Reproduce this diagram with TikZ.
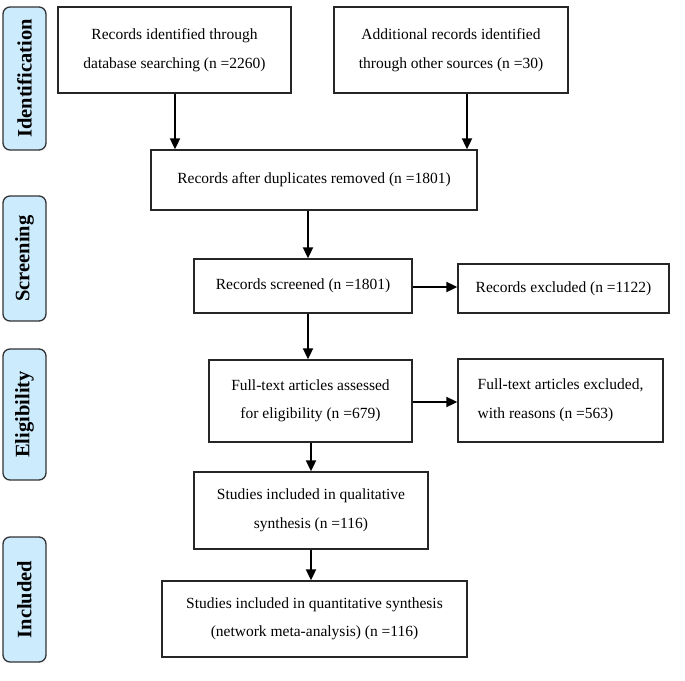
\documentclass[tikz,border=0pt]{standalone}
\usepackage{fontspec}
\setmainfont{Liberation Serif}
\usetikzlibrary{arrows.meta}
\definecolor{phasefill}{HTML}{CCEBFD}
\begin{document}
\begin{tikzpicture}[x=1pt,y=-1pt,
  box/.style={draw=black!85,line width=1.3pt,rectangle,inner sep=0pt,align=center,
    font=\fontsize{15.5}{28.5}\selectfont},
  phase/.style={draw=black!80,line width=1.3pt,fill=phasefill,rounded corners=7pt,
    inner sep=0pt,font=\fontsize{20.5}{24}\selectfont\bfseries,rotate=90},
  arr/.style={line width=1.8pt,-{Triangle[length=11pt,width=10pt]}}]
\useasboundingbox (0,0) rectangle (685,680);
% phase labels
\node[phase,minimum width=143pt,minimum height=43pt] (lab1) at (24.5,78.5) {Identification};
\node[phase,minimum width=125pt,minimum height=43pt] (lab2) at (24.5,258.5) {Screening};
\node[phase,minimum width=131pt,minimum height=43pt] (lab3) at (24.5,414.5) {Eligibility};
\node[phase,minimum width=125pt,minimum height=43pt] (lab4) at (24.5,599.5) {Included};
% boxes
\node[box,minimum width=233pt,minimum height=86pt] (b1) at (174.5,50) {Records identified through\\database searching (n =2260)};
\node[box,minimum width=234pt,minimum height=86pt] (b2) at (451,50) {Additional records identified\\through other sources (n =30)};
\node[box,minimum width=326pt,minimum height=60pt] (b3) at (314,180) {Records after duplicates removed (n =1801)};
\node[box,minimum width=218pt,minimum height=54pt] (s1) at (303,286) {Records screened (n =1801)};
\node[box,minimum width=211pt,minimum height=49pt] (s2) at (563.5,288.5) {Records excluded (n =1122)};
\node[box,minimum width=203pt,minimum height=82pt] (e1) at (310.5,401) {Full-text articles assessed\\for eligibility (n =679)};
\node[box,minimum width=205pt,minimum height=83pt,align=left] (e2) at (560.5,400.5) {Full-text articles excluded,\\with reasons (n =563)};
\node[box,minimum width=234pt,minimum height=77pt] (q1) at (311,510.5) {Studies included in qualitative\\synthesis (n =116)};
\node[box,minimum width=305pt,minimum height=76pt] (q2) at (314.5,619) {Studies included in quantitative synthesis\\(network meta-analysis) (n =116)};
% arrow columns
\coordinate (xa) at (175,0);
\coordinate (xb) at (467,0);
\coordinate (xc) at (308,0);
\coordinate (xd) at (311,0);
\coordinate (ya) at (0,287);
\coordinate (yb) at (0,402);
% connectors
\draw[arr] (b1.south -| xa) -- (b3.north -| xa);
\draw[arr] (b2.south -| xb) -- (b3.north -| xb);
\draw[arr] (b3.south -| xc) -- (s1.north -| xc);
\draw[arr] (s1.east |- ya) -- (s2.west |- ya);
\draw[arr] (s1.south -| xc) -- (e1.north -| xc);
\draw[arr] (e1.east |- yb) -- (e2.west |- yb);
\draw[arr] (e1.south -| xd) -- (q1.north -| xd);
\draw[arr] (q1.south -| xd) -- (q2.north -| xd);
\end{tikzpicture}
\end{document}
